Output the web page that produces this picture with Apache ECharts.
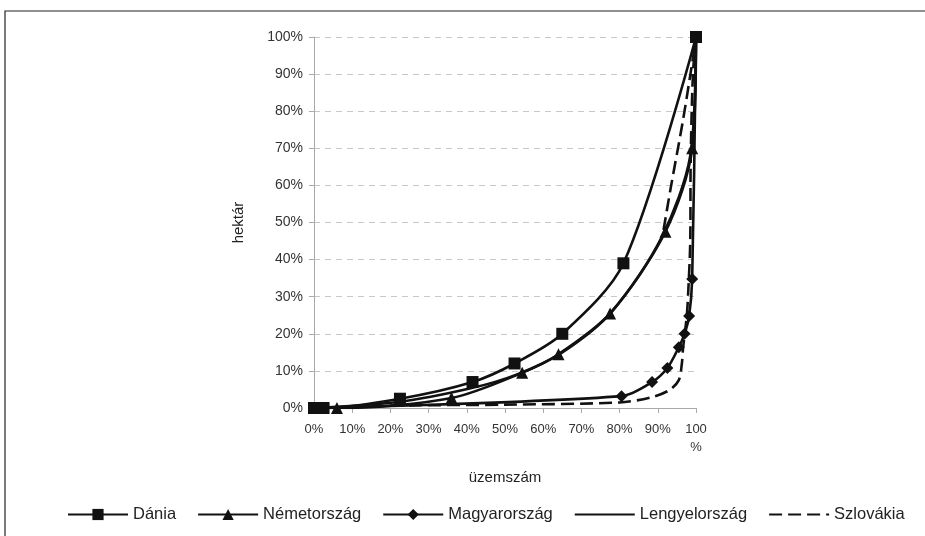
<!DOCTYPE html>
<html>
<head>
<meta charset="utf-8">
<script src="https://cdn.jsdelivr.net/npm/echarts@6/dist/echarts.min.js"></script>
<style>
html,body{margin:0;padding:0;background:#fff;}
#c{width:925px;height:536px;}
</style>
</head>
<body>
<div id="c"></div>
<script>
// x = üzemszám (%), y = hektár (%)
var seriesNames = ['Dánia', 'Németország', 'Magyarország', 'Lengyelország', 'Szlovákia'];
var xTicks = [0, 10, 20, 30, 40, 50, 60, 70, 80, 90, 100];
var yTicks = [0, 10, 20, 30, 40, 50, 60, 70, 80, 90, 100];

var dania = [[0,0],[2.5,0],[22.5,2.5],[41.5,7],[52.5,12],[65,20],[81,39],[100,100]];
var nemetorszag = [[0,0],[6,0],[36,2.7],[54.5,9.5],[64,14.5],[77.5,25.5],[92,47.5],[99,70],[100,100]];
var magyarorszag = [[0,0],[80.5,3.2],[88.5,7],[92.5,10.8],[95.5,16.4],[97,20],[98.2,24.8],[99,34.8],[100,100]];
var lengyelorszag = [[0,0],[22,1.6],[41,5.3],[53,9],[65,15],[78,26],[91,46],[98.5,68],[100,100]];
var szlovakia = [[0,0],[25,0.7],[50,0.9],[80,1.5],[88,2.8],[93,4.8],[95.5,7.5],[96.3,12],[96.6,16],[97.6,25],[98,32],[98.5,45],[98.6,66],[99.2,90],[100,100],
                 '-', [91.5,48],[93.5,60],[96.5,77],[99,93],[100,100]];

var dataSets = [dania, nemetorszag, magyarorszag, lengyelorszag, szlovakia];
var symbols = ['rect', 'triangle', 'diamond', 'circle', 'circle'];
var symbolSizes = [12, 12, 12, 0, 0];

var chart = echarts.init(document.getElementById('c'));
var font = 'Liberation Sans, Arial, sans-serif';

var series = seriesNames.map(function (n, i) {
  var marked = i < 3;
  return {
    name: n,
    type: 'line',
    data: dataSets[i],
    smooth: 0.3,
    connectNulls: false,
    symbol: symbols[i],
    symbolSize: symbolSizes[i],
    showSymbol: marked,
    itemStyle: { color: marked ? '#111' : 'rgba(0,0,0,0)' },
    lineStyle: { color: '#111', width: 2.6, type: i === 4 ? [13, 6] : 'solid' },
    animation: false
  };
});

chart.setOption({
  backgroundColor: '#fff',
  animation: false,
  textStyle: { fontFamily: font },
  grid: { left: 314, right: 229, top: 37, bottom: 128, containLabel: false },
  graphic: [{
    type: 'rect',
    shape: { x: 5, y: 11, width: 940, height: 560 },
    style: { fill: 'none', stroke: '#222', lineWidth: 1.2 },
    silent: true
  }],
  xAxis: {
    type: 'value', min: 0, max: 100, interval: 10,
    name: 'üzemszám', nameLocation: 'middle', nameGap: 62,
    nameTextStyle: { fontSize: 15, color: '#222', fontFamily: font },
    axisLine: { show: true, lineStyle: { color: '#aaa' } },
    axisTick: { show: true, length: 5, lineStyle: { color: '#aaa' } },
    splitLine: { show: false },
    axisLabel: {
      fontSize: 13, color: '#333', fontFamily: font, margin: 12, lineHeight: 18,
      formatter: function (v) { return v === 100 ? '100\n%' : v + '%'; }
    }
  },
  yAxis: {
    type: 'value', min: 0, max: 100, interval: 10,
    name: 'hektár', nameLocation: 'middle', nameGap: 68,
    nameTextStyle: { fontSize: 15, color: '#222', fontFamily: font },
    axisLine: { show: true, lineStyle: { color: '#aaa' } },
    axisTick: { show: true, length: 5, lineStyle: { color: '#aaa' } },
    splitLine: { show: true, lineStyle: { color: '#c8c8c8', type: [6, 5] } },
    axisLabel: {
      fontSize: 14, color: '#333', fontFamily: font, margin: 11,
      formatter: function (v) { return v + '%'; }
    }
  },
  legend: {
    bottom: 8, left: 62,
    itemWidth: 60, itemHeight: 14, itemGap: 21,
    textStyle: { fontSize: 16.5, color: '#222', fontFamily: font },
    data: seriesNames
  },
  series: series
});
</script>
</body>
</html>
